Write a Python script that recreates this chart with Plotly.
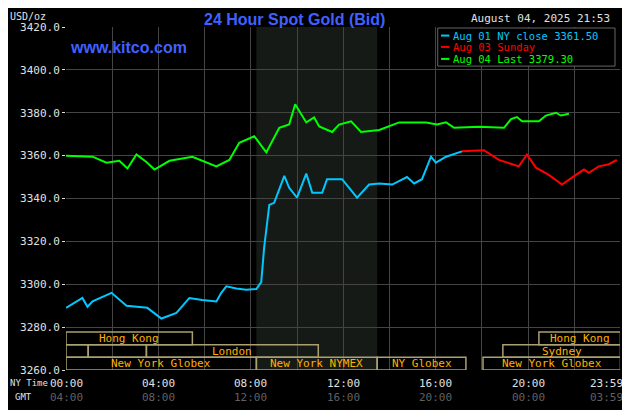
import plotly.graph_objects as go

# hours since 00:00 NY time, price in USD/oz
blue_h = [0, 0.71, 0.93, 1.15, 1.97, 2.62, 3.52, 4.13, 4.78, 5.34, 5.9, 6.51, 6.72, 6.94, 7.37, 7.8, 8.24, 8.45, 8.58,
          8.8, 9.01, 9.45, 9.66, 10.0, 10.4, 10.66, 11.09, 11.3, 11.95, 12.6, 13.12, 13.56, 14.12, 14.76, 15.07, 15.41,
          15.8, 16.01, 16.45, 17.14]
blue_p = [3289, 3293.6, 3289.5, 3292, 3296, 3290, 3289, 3284, 3286.6, 3293.6, 3292.7, 3292, 3296, 3299, 3298, 3297.4,
          3297.8, 3301, 3317.5, 3337, 3338, 3350.6, 3345, 3340.4, 3351.6, 3342.7, 3342.7, 3349, 3349, 3340.4, 3346.5,
          3347, 3346.5, 3350, 3347, 3349, 3359.5, 3356.7, 3359.5, 3362]
red_h = [17.14, 18.09, 18.74, 19.6, 19.95, 20.34, 20.9, 21.47, 22.07, 22.42, 22.63, 23.06, 23.5, 23.84]
red_p = [3362, 3362.5, 3358, 3355, 3360.5, 3354.4, 3351, 3346.5, 3351, 3353.5, 3352, 3355, 3356, 3358]
green_h = [0, 1.15, 1.75, 2.31, 2.66, 3.05, 3.48, 3.83, 4.48, 5.47, 6.51, 7.07, 7.5, 8.15, 8.67, 9.23, 9.66, 9.92,
           10.4, 10.74, 10.96, 11.52, 11.82, 12.34, 12.77, 13.56, 14.42, 15.59, 16.06, 16.45, 16.8, 17.88, 18.96,
           19.26, 19.52, 19.74, 20.47, 20.77, 21.21, 21.42, 21.77]
green_p = [3360, 3359.5, 3356.7, 3357.6, 3354, 3360.5, 3357, 3353.5, 3357.6, 3359.5, 3355, 3358, 3366, 3369, 3361.5,
           3373, 3374.5, 3384, 3375.5, 3377.8, 3373.6, 3371, 3374.5, 3376, 3371, 3372, 3375.5, 3375.5, 3374.5, 3375.5,
           3373, 3373.5, 3373, 3377, 3378, 3376, 3376, 3378.7, 3380, 3378.7, 3379.5]

series_names = ["Aug 01 NY close 3361.50", "Aug 03 Sunday", "Aug 04 Last 3379.30"]
series_colors = ["#00c8ff", "#ff0000", "#00ff00"]

tick_hours = [0, 4, 8, 12, 16, 20, 23.4]
ny_labels = ["00:00", "04:00", "08:00", "12:00", "16:00", "20:00", "23:59"]
gmt_labels = ["04:00", "08:00", "12:00", "16:00", "20:00", "00:00", "03:59"]

# sessions: (row, start hour, end hour, label)
sessions = [
    (2, 0, 5.47, "Hong Kong"), (2, 20.47, 24, "Hong Kong"),
    (1, 0, 0.96, ""), (1, 0.96, 3.48, ""), (1, 3.48, 10.92, "London"), (1, 18.91, 24, "Sydney"),
    (0, 0, 8.24, "New York Globex"), (0, 8.24, 13.47, "New York NYMEX"), (0, 13.47, 17.31, "NY Globex"),
    (0, 18.05, 24, "New York Globex"),
]

mono = "DejaVu Sans Mono"
fig = go.Figure()
for h, p, name, color in zip([blue_h, red_h, green_h], [blue_p, red_p, green_p], series_names, series_colors):
    fig.add_trace(go.Scatter(x=h, y=p, mode="lines", line=dict(color=color, width=2), name=name,
                             showlegend=False))

# NYMEX shaded area
fig.add_vrect(x0=8.24, x1=13.47, fillcolor="#161a16", line_width=0, layer="below")


def note(x, y, text, size, color, xanchor="center", family=mono, xref="paper", yref="paper"):
    fig.add_annotation(x=x, y=y, xref=xref, yref=yref, xanchor=xanchor, yanchor="middle", text=text,
                       showarrow=False, font=dict(family=family, size=size, color=color))


row_h = 5.9
for row, x0, x1, label in sessions:
    y0 = 3260 + row * row_h
    fig.add_shape(type="rect", x0=x0, x1=x1, y0=y0, y1=y0 + row_h, line=dict(color="#aaa070", width=1.5))
    if label:
        note((x0 + x1) / 2, y0 + row_h / 2, label, 11, "#ffb000", xref="x", yref="y")

for h, ny, gmt in zip(tick_hours, ny_labels, gmt_labels):
    note(h, -0.038, ny, 11, "#e0e0e0", xref="x")
    note(h, -0.079, gmt, 11, "#606060", xref="x")
note(-0.105, -0.038, "NY Time", 9, "#e0e0e0", xanchor="left")
note(-0.095, -0.079, "GMT", 9, "#e0e0e0", xanchor="left")

note(0.413, 1.022, "<b>24 Hour Spot Gold (Bid)</b>", 16, "#4060ff", family="Liberation Sans")
note(-0.105, 1.03, "USD/oz", 10, "#e0e0e0", xanchor="left")
note(0.004, 0.939, "<b>www.kitco.com</b>", 16, "#4060ff", xanchor="left", family="Liberation Sans")
note(0.986, 1.026, "August 04, 2025 21:53", 11, "#e0e0e0", xanchor="right")

# legend box
fig.add_shape(type="rect", xref="paper", yref="paper", x0=0.671, x1=0.991, y0=0.886, y1=0.997,
              line=dict(color="#666666", width=1), fillcolor="#000000")
for name, color, yy in zip(series_names, series_colors, [0.975, 0.942, 0.907]):
    fig.add_shape(type="line", xref="paper", yref="paper", x0=0.677, x1=0.692, y0=yy, y1=yy,
                  line=dict(color=color, width=2))
    note(0.695, yy, name, 10.5, color, xanchor="left")

fig.update_xaxes(range=[0, 23.98], tickvals=list(range(0, 25, 2)), showticklabels=False,
                 gridcolor="#444444", gridwidth=1, zeroline=False, showline=False)
fig.update_yaxes(range=[3260, 3420], dtick=20, tickformat=".1f", gridcolor="#444444", zeroline=False,
                 tickfont=dict(family=mono, size=11, color="#e0e0e0"), ticks="outside", ticklen=3,
                 tickcolor="#e0e0e0")
fig.update_layout(
    width=622, height=402, margin=dict(l=58, r=10, t=19, b=40),
    paper_bgcolor="#000000", plot_bgcolor="#000000",
    showlegend=False,
)
fig.write_html("out.html")
